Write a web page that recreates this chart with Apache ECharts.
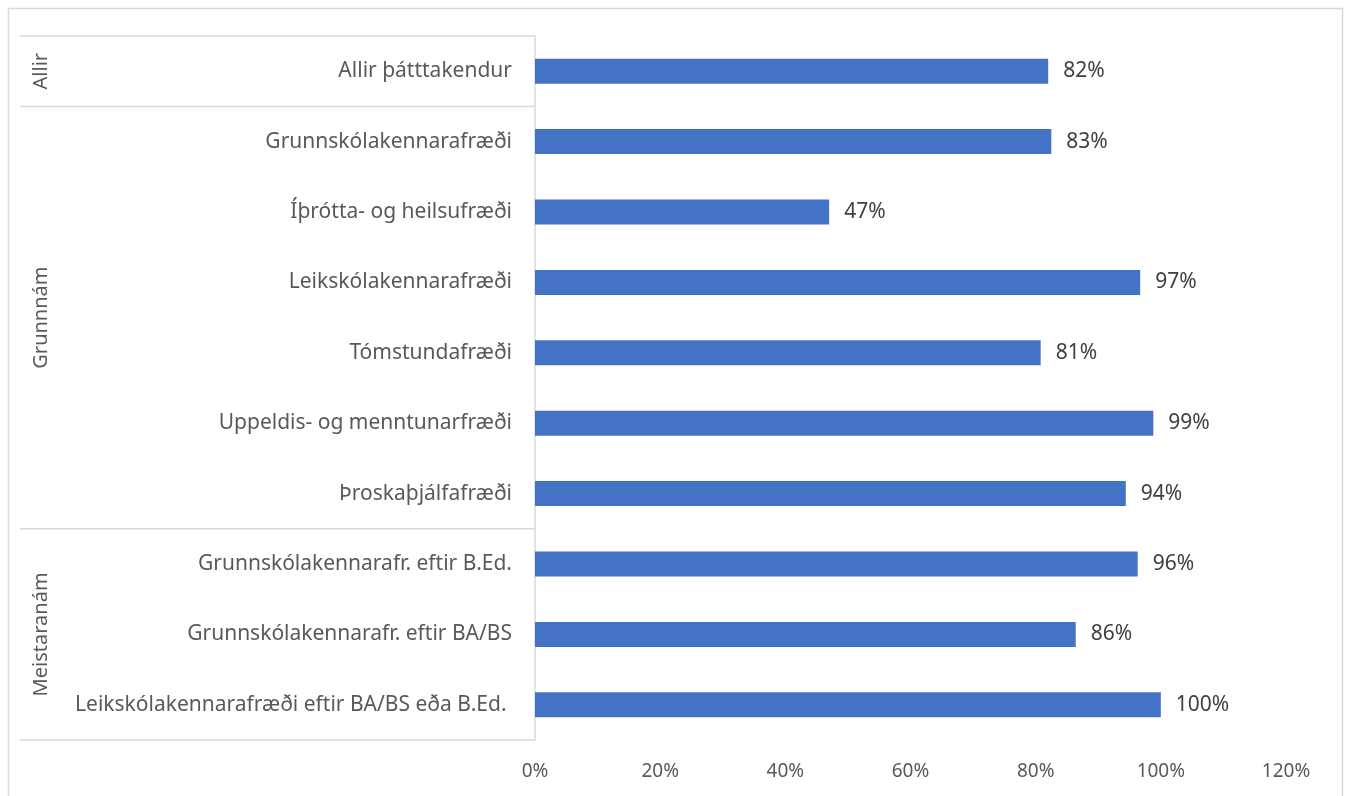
<!DOCTYPE html>
<html><head><meta charset="utf-8">
<script src="https://cdn.jsdelivr.net/npm/echarts@6/dist/echarts.min.js"></script>
<style>html,body{margin:0;padding:0;background:#fff}#c{width:1351px;height:796px}</style>
</head><body><div id="c"></div>
<script>
var categories = ["Allir þátttakendur","Grunnskólakennarafræði","Íþrótta- og heilsufræði","Leikskólakennarafræði","Tómstundafræði","Uppeldis- og menntunarfræði","Þroskaþjálfafræði","Grunnskólakennarafr. eftir B.Ed.","Grunnskólakennarafr. eftir BA/BS","Leikskólakennarafræði eftir BA/BS eða B.Ed. "];
var values = [82, 82.5, 47, 96.7, 80.8, 98.8, 94.4, 96.3, 86.4, 100];
var groupNames = ["Allir", "Grunnnám", "Meistaranám"];
var groupSizes = [1, 6, 3];
var xTicks = [0, 20, 40, 60, 80, 100, 120];

var FONT = "'Noto Sans', 'Open Sans', sans-serif";
var chart = echarts.init(document.getElementById('c'), null, {renderer: 'canvas'});
chart.setOption({
  animation: false,
  backgroundColor: '#fff',
  textStyle: {fontFamily: FONT},
  grid: {left: 535, right: 65, top: 36, bottom: 56, containLabel: false},
  xAxis: {
    type: 'value', min: xTicks[0], max: xTicks[xTicks.length - 1], interval: 20,
    axisLine: {show: false}, axisTick: {show: false}, splitLine: {show: false},
    axisLabel: {formatter: '{value}%', color: '#595959', fontSize: 19, margin: 22, fontFamily: FONT}
  },
  yAxis: {
    type: 'category', data: categories, inverse: true,
    axisLine: {show: true, lineStyle: {color: '#d9d9d9', width: 1.5}},
    axisTick: {show: false},
    axisLabel: {color: '#595959', fontSize: 21, margin: 23, fontFamily: FONT, interval: 0}
  },
  series: [{
    type: 'bar', data: values, barWidth: 25,
    itemStyle: {color: '#4472C4'},
    label: {show: true, position: 'right', distance: 15, color: '#404040', fontSize: 21, fontFamily: FONT,
      formatter: function (p) { return Math.round(p.value) + '%'; }}
  }]
});

// Build the hierarchical group lines and labels from the category axis scale
var half = (chart.convertToPixel({yAxisIndex: 0}, 1) - chart.convertToPixel({yAxisIndex: 0}, 0)) / 2;
var axisX = chart.convertToPixel({xAxisIndex: 0}, 0);
var els = [];
// outer chart border
els.push({type: 'rect', shape: {x: 8.5, y: 8.5, width: 1334, height: 800}, style: {fill: null, stroke: '#d9d9d9', lineWidth: 1.5}, silent: true});
var start = 0;
var bounds = [chart.convertToPixel({yAxisIndex: 0}, 0) - half];
for (var g = 0; g < groupNames.length; g++) {
  var end = start + groupSizes[g] - 1;
  var yTop = chart.convertToPixel({yAxisIndex: 0}, start) - half;
  var yBot = chart.convertToPixel({yAxisIndex: 0}, end) + half;
  bounds.push(yBot);
  els.push({type: 'text', x: 41, y: (yTop + yBot) / 2, rotation: Math.PI / 2,
    style: {text: groupNames[g], fill: '#595959', font: '20px ' + FONT, align: 'center', verticalAlign: 'middle'}, silent: true});
  start = end + 1;
}
bounds.forEach(function (y) {
  els.push({type: 'line', shape: {x1: 20, y1: y, x2: axisX, y2: y}, style: {stroke: '#d9d9d9', lineWidth: 1.5}, silent: true});
});
chart.setOption({graphic: els});
</script></body></html>
